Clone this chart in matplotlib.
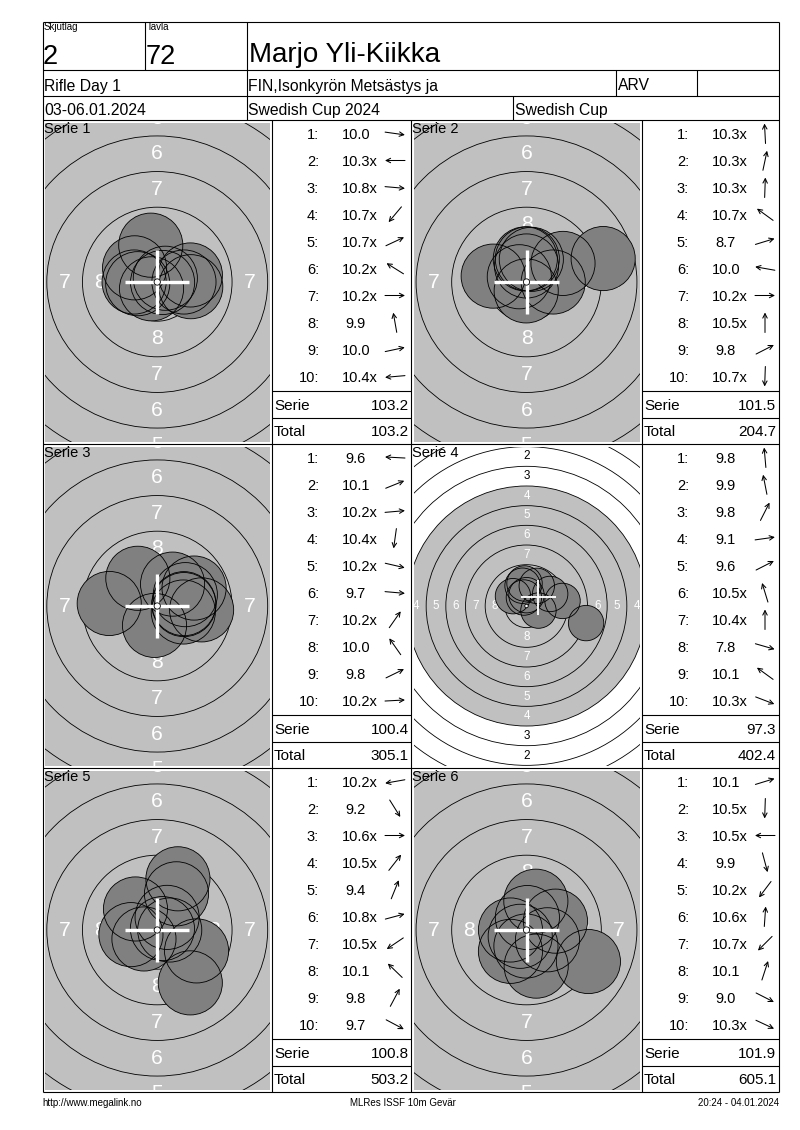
import numpy as np
import matplotlib.pyplot as plt
from matplotlib.patches import Circle

plt.rcParams['font.family'] = ['Liberation Sans', 'DejaVu Sans']

# header / footer texts
shooting_group = "2"
lane = "72"
shooter = "Marjo Yli-Kiikka"
event = "Rifle Day 1"
club = "FIN,Isonkyrön Metsästys ja"
shooter_class = "ARV"
dates = "03-06.01.2024"
competition = "Swedish Cup 2024"
cup = "Swedish Cup"
footer_left = "http://www.megalink.no"
footer_mid = "MLRes ISSF 10m Gevär"
footer_right = "20:24 - 04.01.2024"

series_names = ["Serie 1", "Serie 2", "Serie 3", "Serie 4", "Serie 5", "Serie 6"]

# shot scores (x = inner ten) and shot direction in degrees (0 = right, 90 = up)
s1_scores = ["10.0", "10.3x", "10.8x", "10.7x", "10.7x", "10.2x", "10.2x", "9.9", "10.0", "10.4x"]
s1_dirs = [-8, 180, -5, 230, 25, 148, 0, 100, 12, 185]
s2_scores = ["10.3x", "10.3x", "10.3x", "10.7x", "8.7", "10.0", "10.2x", "10.5x", "9.8", "10.7x"]
s2_dirs = [93, 78, 88, 144, 17, 170, 0, 90, 27, 268]
s3_scores = ["9.6", "10.1", "10.2x", "10.4x", "10.2x", "9.7", "10.2x", "10.0", "9.8", "10.2x"]
s3_dirs = [177, 22, 5, 262, -13, -5, 55, 125, 26, 3]
s4_scores = ["9.8", "9.9", "9.8", "9.1", "9.6", "10.5x", "10.4x", "7.8", "10.1", "10.3x"]
s4_dirs = [95, 101, 63, 8, 27, 107, 90, -16, 144, -21]
s5_scores = ["10.2x", "9.2", "10.6x", "10.5x", "9.4", "10.8x", "10.5x", "10.1", "9.8", "9.7"]
s5_dirs = [190, -58, 0, 52, 68, 15, 214, 136, 62, -28]
s6_scores = ["10.1", "10.5x", "10.5x", "9.9", "10.2x", "10.6x", "10.7x", "10.1", "9.0", "10.3x"]
s6_dirs = [17, 268, 180, -75, 233, 86, 225, 72, -27, -25]

serie_sums = ["103.2", "101.5", "100.4", "97.3", "100.8", "101.9"]
totals = ["103.2", "204.7", "305.1", "402.4", "503.2", "605.1"]

all_scores = [s1_scores, s2_scores, s3_scores, s4_scores, s5_scores, s6_scores]
all_dirs = [s1_dirs, s2_dirs, s3_dirs, s4_dirs, s5_dirs, s6_dirs]

W, H = 800, 1130
fig = plt.figure(figsize=(W / 100, H / 100), dpi=100)


def ring_radius(n):
    # ISSF 10m air rifle ring radius in mm
    return 0.25 + (10 - n) * 2.5


PELLET = 2.25
row_tops = [120, 444, 768]
target_cols = [(42.5, 272), (411, 642)]
list_cols = [(272, 411), (642, 778.5)]

for k in range(6):
    top = row_tops[k // 2]
    tx0, tx1 = target_cols[k % 2]
    values = [float(s.rstrip('x')) for s in all_scores[k]]
    zoomed_out = min(values) < 8.0
    scale = 7.87 if zoomed_out else 14.25  # px per mm

    ax0, ax1 = tx0 + 2.5, tx1 - 2.5
    ay0, ay1 = top + 2.5, top + 324 - 2.5
    ax = fig.add_axes([ax0 / W, 1 - ay1 / H, (ax1 - ax0) / W, (ay1 - ay0) / H])
    hw = (ax1 - ax0) / 2 / scale
    hh = (ay1 - ay0) / 2 / scale
    ax.set_xlim(-hw, hw)
    ax.set_ylim(-hh, hh)
    ax.axis('off')

    ax.add_patch(Circle((0, 0), ring_radius(4), fc='#c0c0c0', ec='none', zorder=1))
    for n in range(1, 10):
        ax.add_patch(Circle((0, 0), ring_radius(n), fc='none', ec='black', lw=0.6, zorder=2))
    for n in range(1, 9):
        r = (10 - n) * 2.5 - 1.0
        col = 'white' if r < ring_radius(4) else 'black'
        for (px, py) in [(0, r), (0, -r), (r, 0), (-r, 0)]:
            ax.text(px, py, str(n), color=col, ha='center', va='center',
                    fontsize=1.07 * scale, clip_on=True, zorder=2.5)

    xs, ys = [], []
    for v, a in zip(values, all_dirs[k]):
        d = (10.95 - v) * 2.5
        xs.append(d * np.cos(np.radians(a)))
        ys.append(d * np.sin(np.radians(a)))
    for x, y in zip(xs, ys):
        ax.add_patch(Circle((x, y), PELLET, fc='#808080', ec='none', zorder=3))
    for x, y in zip(xs, ys):
        ax.add_patch(Circle((x, y), PELLET, fc='none', ec='black', lw=0.6, zorder=4))

    # crosshair: group centre when zoomed out, otherwise target centre
    cx, cy = (np.mean(xs), np.mean(ys)) if zoomed_out else (0, 0)
    lw = 0.17 * scale
    ax.plot([cx - PELLET, cx + PELLET], [cy, cy], color='white', lw=lw, zorder=5, solid_capstyle='butt')
    ax.plot([cx, cx], [cy - PELLET, cy + PELLET], color='white', lw=lw, zorder=5, solid_capstyle='butt')
    ax.add_patch(Circle((0, 0), 0.22, fc='white', ec='black', lw=0.6, zorder=6))

# overlay for table lines and texts
bg = fig.add_axes([0, 0, 1, 1])
bg.set_xlim(0, W)
bg.set_ylim(H, 0)
bg.axis('off')
bg.patch.set_alpha(0)

LW = 0.8


def hline(y, x0, x1):
    bg.plot([x0, x1], [y, y], color='black', lw=LW, solid_capstyle='butt')


def vline(x, y0, y1):
    bg.plot([x, x], [y0, y1], color='black', lw=LW, solid_capstyle='butt')


L, R, T, B = 42.5, 778.5, 21.5, 1092
hline(T, L, R)
hline(B, L, R)
vline(L, T, B)
vline(R, T, B)
for y in [70, 95.5, 120, 444, 768]:
    hline(y, L, R)
vline(145, T, 70)
vline(246.5, T, 120)
vline(616, 70, 95.5)
vline(697, 70, 95.5)
vline(513, 95.5, 120)
for x in [272, 411, 642]:
    vline(x, 120, B)

bg.text(44, 30, "Skjutlag", fontsize=7, va='baseline')
bg.text(147, 30, "Tavla", fontsize=7, va='baseline')
bg.text(43, 63.5, shooting_group, fontsize=19.5, va='baseline')
bg.text(146, 63.5, lane, fontsize=19.5, va='baseline')
bg.text(249, 62.5, shooter, fontsize=20, va='baseline')
bg.text(44, 90.5, event, fontsize=11.3, va='baseline')
bg.text(248, 90.5, club, fontsize=11.3, va='baseline')
bg.text(618, 90.5, shooter_class, fontsize=11.3, va='baseline')
bg.text(44, 115, dates, fontsize=11.3, va='baseline')
bg.text(248, 115, competition, fontsize=11.3, va='baseline')
bg.text(515, 115, cup, fontsize=11.3, va='baseline')

bg.text(42, 1106, footer_left, fontsize=7, va='baseline')
bg.text(403, 1106, footer_mid, fontsize=7, va='baseline', ha='center')
bg.text(779, 1106, footer_right, fontsize=7, va='baseline', ha='right')

for k in range(6):
    top = row_tops[k // 2]
    tx0, _ = target_cols[k % 2]
    lx0, lx1 = list_cols[k % 2]
    bg.text(tx0 + 1, top + 2, series_names[k], fontsize=10.5, va='top', ha='left')
    hline(top + 271, lx0, lx1)
    hline(top + 297.5, lx0, lx1)
    for i, (s, a) in enumerate(zip(all_scores[k], all_dirs[k])):
        yc = top + 13.5 + 27 * i
        yb = yc + 5.2
        bg.text(lx0 + 47, yb, f"{i + 1}:", fontsize=10.5, ha='right', va='baseline')
        sx = lx0 + 70 if len(s.rstrip('x')) == 4 else lx0 + 73.5
        bg.text(sx, yb, s, fontsize=10.5, ha='left', va='baseline')
        axc = lx0 + 123
        dx, dy = 10 * np.cos(np.radians(a)), -10 * np.sin(np.radians(a))
        bg.annotate('', xy=(axc + dx, yc + dy), xytext=(axc - dx, yc - dy),
                    arrowprops=dict(arrowstyle='->', lw=0.75, shrinkA=0, shrinkB=0,
                                    mutation_scale=8))
    bg.text(lx0 + 2, top + 284 + 5.5, "Serie", fontsize=11, va='baseline')
    bg.text(lx1 - 2.5, top + 284 + 5.5, serie_sums[k], fontsize=11, va='baseline', ha='right')
    bg.text(lx0 + 2, top + 310 + 5.5, "Total", fontsize=11, va='baseline')
    bg.text(lx1 - 2.5, top + 310 + 5.5, totals[k], fontsize=11, va='baseline', ha='right')

fig.savefig("out.png", dpi=100, facecolor='white')
